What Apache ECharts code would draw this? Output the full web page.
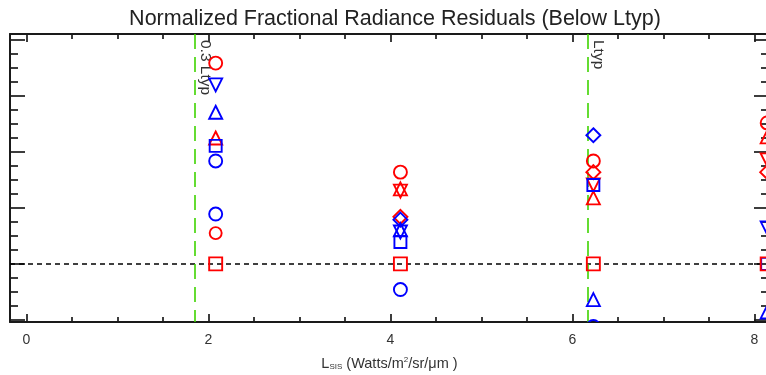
<!DOCTYPE html>
<html>
<head>
<meta charset="utf-8">
<script src="https://cdn.jsdelivr.net/npm/echarts@6/dist/echarts.min.js"></script>
<style>
  html, body { margin: 0; padding: 0; background: #fff; }
  #chart { width: 766px; height: 375px; }
</style>
</head>
<body>
<div id="chart"></div>
<script>
// Radiance levels at which the residuals were evaluated
const LEVELS_X = [2.08, 4.11, 6.23, 8.14];

// Normalized residuals per band symbol (null = not plotted at that level)
const redCircle    = [3.59, 1.64, 1.84, 2.52];
const redCircle2   = [0.55, null, null, null];
const redTriUp     = [2.25, 1.34, 1.18, 2.27];
const redTriDown   = [null, 1.30, 1.41, 1.86];
const redSquare    = [0, 0, 0, 0];
const redDiamond   = [null, 0.84, 1.64, 1.64];

const blueCircle   = [1.84, -0.46, null, null];
const blueCircle2  = [0.89, null, -1.12, null];
const blueTriUp    = [2.71, 0.61, -0.64, -0.86];
const blueTriDown  = [3.20, 0.57, null, 0.64];
const blueSquare   = [2.11, 0.39, 1.41, 0];
const blueDiamond  = [null, 0.79, 2.30, null];

// Typical radiance and reference lines
const LTYP = 6.17;
const REF_LINES = [0.3 * LTYP, LTYP];
const REF_NAMES = ['0.3 Ltyp', 'Ltyp'];

// Axis ranges and ticks
const X_MIN = -0.18, X_MAX = 8.16;
const Y_MIN = -1.04, Y_MAX = 4.11;
const X_MAJOR = [0, 2, 4, 6, 8];
const X_MINOR = [0.5, 1, 1.5, 2.5, 3, 3.5, 4.5, 5, 5.5, 6.5, 7, 7.5];
const Y_MAJOR = [-1, 0, 1, 2, 3, 4];
const Y_MINOR = [-0.75, -0.5, -0.25, 0.25, 0.5, 0.75, 1.25, 1.5, 1.75,
                 2.25, 2.5, 2.75, 3.25, 3.5, 3.75];

const RED = '#ff0000';
const BLUE = '#0000ff';
const FONT = 'Liberation Sans, Arial, sans-serif';
const AXIS_COLOR = '#1a1a1a';

function pairs(values) {
  const out = [];
  values.forEach((v, i) => { if (v !== null) out.push([LEVELS_X[i], v]); });
  return out;
}

function tickAxis(position, min, max, ticks, len, withLine) {
  return {
    type: 'value', position: position, min: min, max: max,
    axisLine: { show: withLine, onZero: false, lineStyle: { color: AXIS_COLOR, width: 2 } },
    axisTick: { show: true, inside: true, length: len, customValues: ticks,
                lineStyle: { color: AXIS_COLOR, width: 1.7 } },
    axisLabel: { show: false },
    splitLine: { show: false },
    silent: true
  };
}

const xBottom = tickAxis('bottom', X_MIN, X_MAX, X_MAJOR, 8, true);
xBottom.axisLabel = {
  show: true, customValues: X_MAJOR, color: '#333', fontFamily: FONT, fontSize: 14, margin: 11
};
xBottom.name = '{a|L}{s|SIS}{a| (Watts/m}{p|2}{a|/sr/\u03bcm )}';
xBottom.nameLocation = 'middle';
xBottom.nameGap = 34;
xBottom.nameTextStyle = {
  rich: {
    a: { fontFamily: FONT, fontSize: 14.5, color: '#333' },
    s: { fontFamily: FONT, fontSize: 8, color: '#333', verticalAlign: 'bottom', padding: [6, 0, 0, 0] },
    p: { fontFamily: FONT, fontSize: 8, color: '#333', verticalAlign: 'top', padding: [0, 0, 6, 0] }
  }
};

const xAxes = [
  xBottom,
  tickAxis('bottom', X_MIN, X_MAX, X_MINOR, 5, false),
  tickAxis('top', X_MIN, X_MAX, X_MAJOR, 8, true),
  tickAxis('top', X_MIN, X_MAX, X_MINOR, 5, false)
];
const yAxes = [
  tickAxis('left', Y_MIN, Y_MAX, Y_MAJOR, 15, true),
  tickAxis('left', Y_MIN, Y_MAX, Y_MINOR, 8, false),
  tickAxis('right', Y_MIN, Y_MAX, Y_MAJOR, 15, true),
  tickAxis('right', Y_MIN, Y_MAX, Y_MINOR, 8, false)
];

function scatter(name, values, color, symbol, size, rotate) {
  return {
    name: name, type: 'scatter', z: 3,
    xAxisIndex: 0, yAxisIndex: 0,
    symbol: symbol, symbolSize: size, symbolRotate: rotate || 0,
    itemStyle: { color: 'rgba(0,0,0,0)', borderColor: color, borderWidth: 1.9, opacity: 1 },
    emphasis: { disabled: true },
    data: pairs(values)
  };
}

const refLineData = REF_LINES.map((x, i) => [
  { name: REF_NAMES[i], coord: [x, Y_MAX] },
  { coord: [x, Y_MIN] }
]);

const series = [
  scatter('redCircle', redCircle, RED, 'circle', 13),
  scatter('redCircle2', redCircle2, RED, 'circle', 12),
  scatter('redTriUp', redTriUp, RED, 'triangle', 13),
  scatter('redTriDown', redTriDown, RED, 'triangle', 13, 180),
  scatter('redDiamond', redDiamond, RED, 'diamond', 14),
  scatter('blueCircle', blueCircle, BLUE, 'circle', 13),
  scatter('blueTriUp', blueTriUp, BLUE, 'triangle', 13),
  scatter('blueTriDown', blueTriDown, BLUE, 'triangle', 13, 180),
  scatter('blueSquare', blueSquare, BLUE, 'rect', 12),
  scatter('blueDiamond', blueDiamond, BLUE, 'diamond', 14),
  {
    // circles drawn with a real clip path so that marks past the frame are cut off
    name: 'blueCircle2', type: 'custom', z: 3, clip: true,
    xAxisIndex: 0, yAxisIndex: 0,
    encode: { x: 0, y: 1 },
    data: pairs(blueCircle2),
    renderItem: function (params, api) {
      const p = api.coord([api.value(0), api.value(1)]);
      return {
        type: 'circle',
        shape: { cx: p[0], cy: p[1], r: 6.5 },
        style: { fill: 'none', stroke: BLUE, lineWidth: 1.9 }
      };
    }
  },
  Object.assign(scatter('redSquare', redSquare, RED, 'rect', 13), {
    z: 4,
    markLine: {
      silent: true, z: 1, symbol: ['none', 'none'], animation: false,
      data: [
        { yAxis: 0, label: { show: false },
          lineStyle: { color: '#000', type: [5, 4], width: 1.6 } }
      ].concat(refLineData),
      lineStyle: { color: '#3fd400', type: [15, 8], width: 1.6 },
      label: {
        show: true, position: 'insideStartTop', formatter: '{b}',
        color: '#333', fontFamily: FONT, fontSize: 15.5, distance: [6, 2]
      }
    }
  })
];

const chart = echarts.init(document.getElementById('chart'), null, { renderer: 'canvas' });
chart.setOption({
  animation: false,
  backgroundColor: '#ffffff',
  title: {
    text: 'Normalized Fractional Radiance Residuals (Below Ltyp)',
    left: 390, top: 3, textAlign: 'center',
    textStyle: { fontFamily: FONT, fontSize: 21.5, fontWeight: 'normal', color: '#222' }
  },
  grid: { left: 10, right: -3, top: 34, bottom: 53, containLabel: false, outerBoundsMode: 'none' },
  xAxis: xAxes,
  yAxis: yAxes,
  series: series
});
</script>
</body>
</html>
